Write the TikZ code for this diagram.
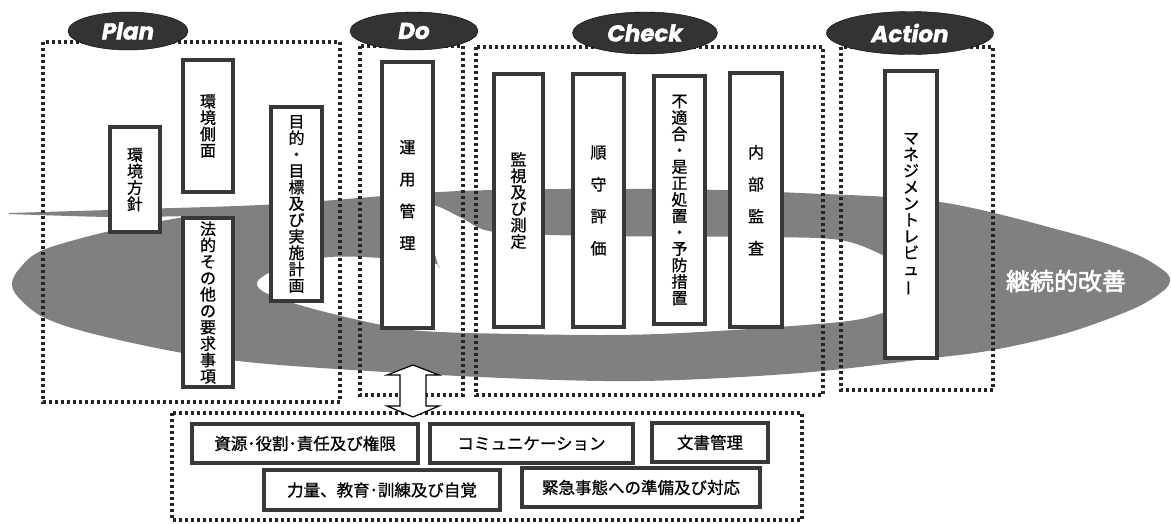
\documentclass[tikz,border=0pt]{standalone}
\usepackage{fontspec}
\usepackage{graphicx}
\newfontfamily\cjk{Noto Sans CJK JP}[FakeBold=0.8]
\newfontfamily\cjkbold{Noto Sans CJK JP}[FakeBold=2.5]
\newfontfamily\labelfont{Poppins}[BoldItalicFeatures={FakeBold=1.5}]
\usetikzlibrary{shapes.geometric}

\definecolor{swoosh}{HTML}{808080}
\definecolor{edge}{HTML}{383838}
\definecolor{dots}{HTML}{262626}
\definecolor{oval}{HTML}{333333}

\tikzset{
  phasebox/.style={draw=dots, line width=3.4pt, dash pattern=on 3pt off 3pt},
  itembox/.style={draw=edge, line width=3.2pt, fill=white, inner sep=0pt, align=center,
    font=\cjk\fontsize{16}{16.4}\selectfont},
  widebox/.style={itembox, font=\cjk\fontsize{16}{32}\selectfont},
  supportbox/.style={draw=edge, line width=3.2pt, fill=white, inner sep=0pt,
    font=\cjk\fontsize{16.5}{16.5}\selectfont},
  phaseoval/.style={ellipse, draw=black, fill=oval, text=white, inner sep=0pt,
    font=\labelfont\bfseries\itshape\fontsize{23}{23}\selectfont},
}

\begin{document}
\begin{tikzpicture}[x=1pt,y=-1pt]
\useasboundingbox (0,0) rectangle (1171,523);

% Spirale
\fill[swoosh, even odd rule]
  (9,213) -- plot[smooth, tension=0.55] coordinates {(9,213) (140,209) (280,204) (460,191)
    (660,189) (800,193) (940,202) (1067,232) (1133,253) (1163,270) (1170,280) (1163,291)
    (1133,309) (1067,333) (993,350) (933,358) (800,373) (640,381) (480,377) (280,365)
    (183,353) (90,333) (43,317) (18,297) (12,283) (20,268) (43,250) (110,231) (190,216)}
  -- plot[smooth] coordinates {(190,216) (110,217) (9,214)} -- cycle
  (439,268) -- (433,248) -- (395,203)
  -- plot[smooth, tension=0.55] coordinates {(395,203) (433,205) (462,218) (495,232)
    (600,236) (760,237) (840,240) (885,256) (915,272) (928,288) (915,303) (883,313)
    (840,322) (700,332) (600,335) (440,332) (382,325) (310,308) (268,294) (257,285)
    (262,277) (285,266) (330,257) (382,258) (433,263) (439,268)} -- cycle;
\node[text=white, font=\cjkbold\fontsize{24}{24}\selectfont] (kaizen) at (1066,281) {継続的改善};

% Rahmen
\draw[phasebox] (43,42) rectangle (340,402);
\draw[phasebox] (360,46) rectangle (463,395);
\draw[phasebox] (476,47) rectangle (823,395);
\draw[phasebox] (841,47) rectangle (993,390);
\draw[phasebox] (172,413) rectangle (802,520);

% Phasen
\node[phaseoval, minimum width=120, minimum height=38] (plan) at (128,31) {Plan};
\node[phaseoval, minimum width=128, minimum height=38] (do) at (414,31) {Do};
\node[phaseoval, minimum width=145, minimum height=42] (check) at (645,33) {Check};
\node[phaseoval, minimum width=167, minimum height=43] (action) at (910,33) {Action};

% Plan
\node[itembox, minimum width=50, minimum height=105] (hoshin) at (135,179.5) {環\\境\\方\\針};
\node[itembox, minimum width=50, minimum height=132] (sokumen) at (208,126) {環\\境\\側\\面};
\node[itembox, minimum width=50, minimum height=169] (houteki) at (208,302.5)
  {法\\的\\そ\\の\\他\\の\\要\\求\\事\\項};
\node[itembox, minimum width=51, minimum height=194] (mokuteki) at (296.5,204)
  {目\\的\\・\\目\\標\\及\\び\\実\\施\\計\\画};

% Do
\node[widebox, minimum width=51, minimum height=266] (unyou) at (407.5,195) {運\\用\\管\\理};

% Check
\node[itembox, minimum width=49, minimum height=253] (kanshi) at (518.5,200.5)
  {監\\視\\及\\び\\測\\定};
\node[widebox, minimum width=51, minimum height=253] (junshu) at (598.5,200.5) {順\\守\\評\\価};
\node[itembox, minimum width=51, minimum height=248] (futekigou) at (679.5,200)
  {不\\適\\合\\・\\是\\正\\処\\置\\・\\予\\防\\措\\置};
\node[widebox, minimum width=52, minimum height=254] (naibu) at (756,200) {内\\部\\監\\査};

% Action
\node[itembox, minimum width=52, minimum height=287] (review) at (911,214.5)
  {マ\\ネ\\ジ\\メ\\ン\\ト\\レ\\ビ\\ュ\\\rotatebox[origin=c]{90}{ー}};

% Unterstuetzung
\node[supportbox, minimum width=226, minimum height=39] (shigen) at (305,443.5) {資源･役割･責任及び権限};
\node[supportbox, minimum width=203, minimum height=39] (comm) at (531.5,443.5) {コミュニケーション};
\node[supportbox, minimum width=116, minimum height=39] (bunsho) at (710,442.5) {文書管理};
\node[supportbox, minimum width=236, minimum height=40] (rikiryou) at (382,490) {力量、教育･訓練及び自覚};
\node[supportbox, minimum width=238, minimum height=39] (kinkyu) at (641,487.5) {緊急事態への準備及び対応};

% Doppelpfeil
\coordinate (arrtop) at (413,365);
\coordinate (arrbot) at (413,417);
\draw[fill=white, line width=1.2pt, line join=miter] (arrtop) -- ++(26,10) -- ++(-13,0)
  -- ++(0,31) -- ++(13,0) -- (arrbot) -- ++(-26,-11) -- ++(13,0) -- ++(0,-31)
  -- ++(-13,0) -- cycle;

\end{tikzpicture}
\end{document}
